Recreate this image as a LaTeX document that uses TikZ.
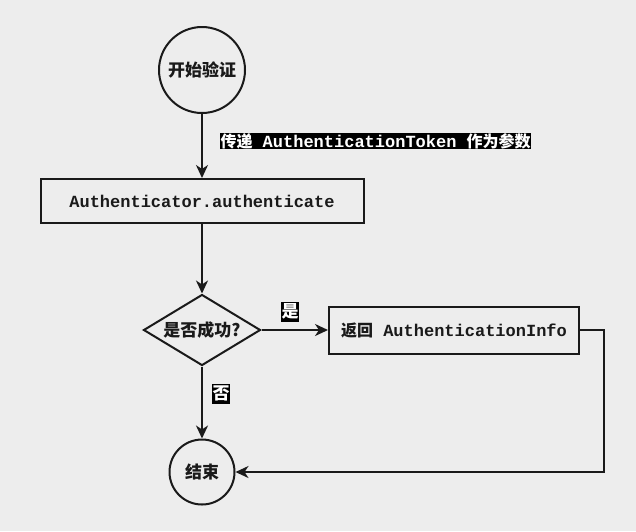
\documentclass[tikz,border=0pt]{standalone}
\usepackage{fontspec}
\setmainfont{Noto Sans CJK SC}
\setmonofont{Liberation Mono}
\usetikzlibrary{arrows.meta,shapes.geometric}
\definecolor{bgcolor}{HTML}{EDEDED}
\definecolor{linecolor}{HTML}{1A1A1A}
\newcommand{\code}[1]{{\ttfamily\fontsize{17}{20}\selectfont #1}}
\begin{document}
\begin{tikzpicture}[
        x=1pt, y=-1pt,
        line width=2pt,
        every node/.style={font=\bfseries\fontsize{16}{19}\selectfont, text=linecolor},
        flowline/.style={draw=linecolor, -{Stealth[length=13pt,width=12pt,inset=4pt]}},
        terminal/.style={circle, draw=linecolor, inner sep=0pt, font=\bfseries\fontsize{17}{20}\selectfont},
        process/.style={rectangle, draw=linecolor, inner sep=0pt},
        decision/.style={diamond, draw=linecolor, inner sep=0pt, aspect=1.65, minimum width=117pt, minimum height=71pt, font=\bfseries\fontsize{17}{20}\selectfont},
        tag/.style={fill=black, text=white, inner sep=0.5pt},
        bigtag/.style={tag, font=\bfseries\fontsize{17}{20}\selectfont, text height=15pt, text depth=4pt}
    ]
    \useasboundingbox[fill=bgcolor] (0,0) rectangle (636,531);
    \node[terminal, minimum size=86pt] (start) at (202,70) {开始验证};
    \node[process, minimum width=323pt, minimum height=44pt] (auth) at (202,201) {\code{Authenticator.authenticate}};
    \node[decision] (ok) at (202,330) {是否成功?};
    \node[process, minimum width=250pt, minimum height=47pt] (info) at (454,330) {返回\code{\ AuthenticationInfo}};
    \node[terminal, minimum size=65pt] (stop) at (202,472) {结束};

    \draw[flowline] (start) -- node[tag, anchor=west, pos=0.42, xshift=17pt] {传递\code{\ AuthenticationToken\ }作为参数} (auth);
    \draw[flowline] (auth) -- (ok);
    \draw[flowline] (ok) -- node[bigtag, pos=0.43, above=7pt] {是} (info);
    \draw[flowline] (ok) -- node[bigtag, pos=0.38, right=9pt] {否} (stop);
    \draw[flowline] (info.east) -- ++(24,0) |- (stop.east);
\end{tikzpicture}
\end{document}
